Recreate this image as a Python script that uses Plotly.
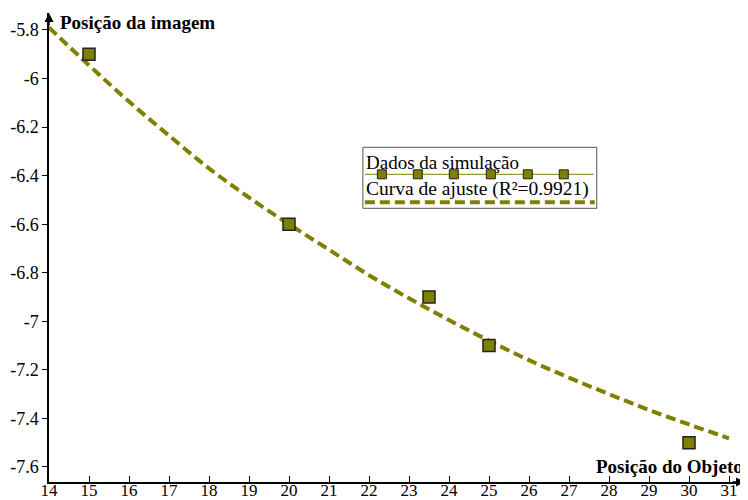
import plotly.graph_objects as go

# ---- data ----
obj_pos = [15, 20, 23.5, 25, 30]
img_pos = [-5.9, -6.6, -6.9, -7.1, -7.5]

fit_x = [14, 15, 16, 17, 18, 19, 20, 21, 22, 23, 24, 25, 26, 27, 28, 29, 30, 31]
fit_y = [-5.79, -5.945, -6.095, -6.235, -6.37, -6.49, -6.60, -6.705, -6.81,
         -6.905, -6.995, -7.08, -7.16, -7.232, -7.30, -7.365, -7.425, -7.482]

y_ticks = [-5.8, -6, -6.2, -6.4, -6.6, -6.8, -7, -7.2, -7.4, -7.6]
y_tick_text = ["-5.8", "-6", "-6.2", "-6.4", "-6.6", "-6.8", "-7", "-7.2", "-7.4", "-7.6"]
x_ticks = list(range(14, 32))

legend_names = ["Dados da simulação", "Curva de ajuste (R²=0.9921)"]

OLIVE = "#808000"
FONT = "Liberation Serif, Times New Roman, Times, DejaVu Serif, serif"

# page has an 8px body margin: figure is drawn at offset (8, 8)
OFF = 8
W, H = 740, 492
L, R, T, B = 41, 2.7, 4.7, 18.3
PW, PH = W - L - R, H - T - B


def px(x):
    return (x - OFF - L) / PW


def py(y):
    return (H - B - (y - OFF)) / PH


fig = go.Figure()

fig.add_trace(go.Scatter(
    x=fit_x, y=fit_y, mode="lines", line=dict(color=OLIVE, width=4, dash="10px,5px", shape="spline"),
    name=legend_names[1], showlegend=False, cliponaxis=False))

fig.add_trace(go.Scatter(
    x=obj_pos, y=img_pos, mode="markers",
    marker=dict(symbol="square", size=12, color=OLIVE, line=dict(color="#222", width=1.5)),
    name=legend_names[0], showlegend=False, cliponaxis=False))

shapes = []
annotations = []

# legend box
shapes.append(dict(type="rect", xref="paper", yref="paper", x0=px(363), x1=px(597), y0=py(208), y1=py(147),
                   line=dict(color="#555", width=1), fillcolor="white", layer="above"))
shapes.append(dict(type="line", xref="paper", yref="paper", x0=px(365), x1=px(594), y0=py(174), y1=py(174),
                   line=dict(color=OLIVE, width=1), layer="above"))
for cx in [382, 418, 454, 491, 528, 564]:
    shapes.append(dict(type="rect", xref="paper", yref="paper", x0=px(cx - 4.5), x1=px(cx + 4.5),
                       y0=py(178.5), y1=py(169.5), line=dict(color="#222", width=1), fillcolor=OLIVE,
                       layer="above"))
shapes.append(dict(type="line", xref="paper", yref="paper", x0=px(365), x1=px(595), y0=py(202), y1=py(202),
                   line=dict(color=OLIVE, width=4, dash="10px,5px"), layer="above"))

annotations.append(dict(text=legend_names[0], xref="paper", yref="paper", x=px(364), y=py(162),
                        xanchor="left", yanchor="middle", showarrow=False,
                        font=dict(family=FONT, size=19, color="black")))
annotations.append(dict(text=legend_names[1], xref="paper", yref="paper", x=px(364), y=py(189),
                        xanchor="left", yanchor="middle", showarrow=False,
                        font=dict(family=FONT, size=19.5, color="black")))

# axis titles
annotations.append(dict(text="<b>Posição da imagem</b>", xref="paper", yref="paper", x=px(58), y=py(22),
                        xanchor="left", yanchor="middle", showarrow=False,
                        font=dict(family=FONT, size=19, color="black")))
annotations.append(dict(text="<b>Posição do Objeto</b>", xref="paper", yref="paper", x=px(745), y=py(466),
                        xanchor="right", yanchor="middle", showarrow=False,
                        font=dict(family=FONT, size=19, color="black")))

# axis arrows
annotations.append(dict(x=31.4, y=-7.662, xref="x", yref="y", ax=-14, ay=0, text="", showarrow=True,
                        arrowhead=2, arrowsize=1.2, arrowwidth=1.5, arrowcolor="black"))
annotations.append(dict(x=14, y=-5.73, xref="x", yref="y", ax=0, ay=14, text="", showarrow=True,
                        arrowhead=2, arrowsize=1.2, arrowwidth=1.5, arrowcolor="black"))

fig.update_layout(
    width=W, height=H,
    margin=dict(l=L, r=R, t=T, b=B, autoexpand=False),
    paper_bgcolor="white", plot_bgcolor="white",
    showlegend=False,
    shapes=shapes, annotations=annotations,
    font=dict(family=FONT, size=18, color="black"),
    xaxis=dict(range=[14, 31.4], tickvals=x_ticks, ticks="inside", ticklen=6, tickcolor="black",
               showline=True, linecolor="black", linewidth=1.5, showgrid=False, zeroline=False,
               automargin=False, ticklabelstandoff=-8,
               tickfont=dict(family=FONT, size=17, color="black")),
    yaxis=dict(range=[-7.662, -5.73], tickvals=y_ticks, ticktext=y_tick_text, ticks="outside", ticklen=5,
               tickcolor="black", showline=True, linecolor="black", linewidth=1.5, showgrid=False,
               zeroline=False, automargin=False,
               tickfont=dict(family=FONT, size=18, color="black")),
)

fig.write_html("out.html")
